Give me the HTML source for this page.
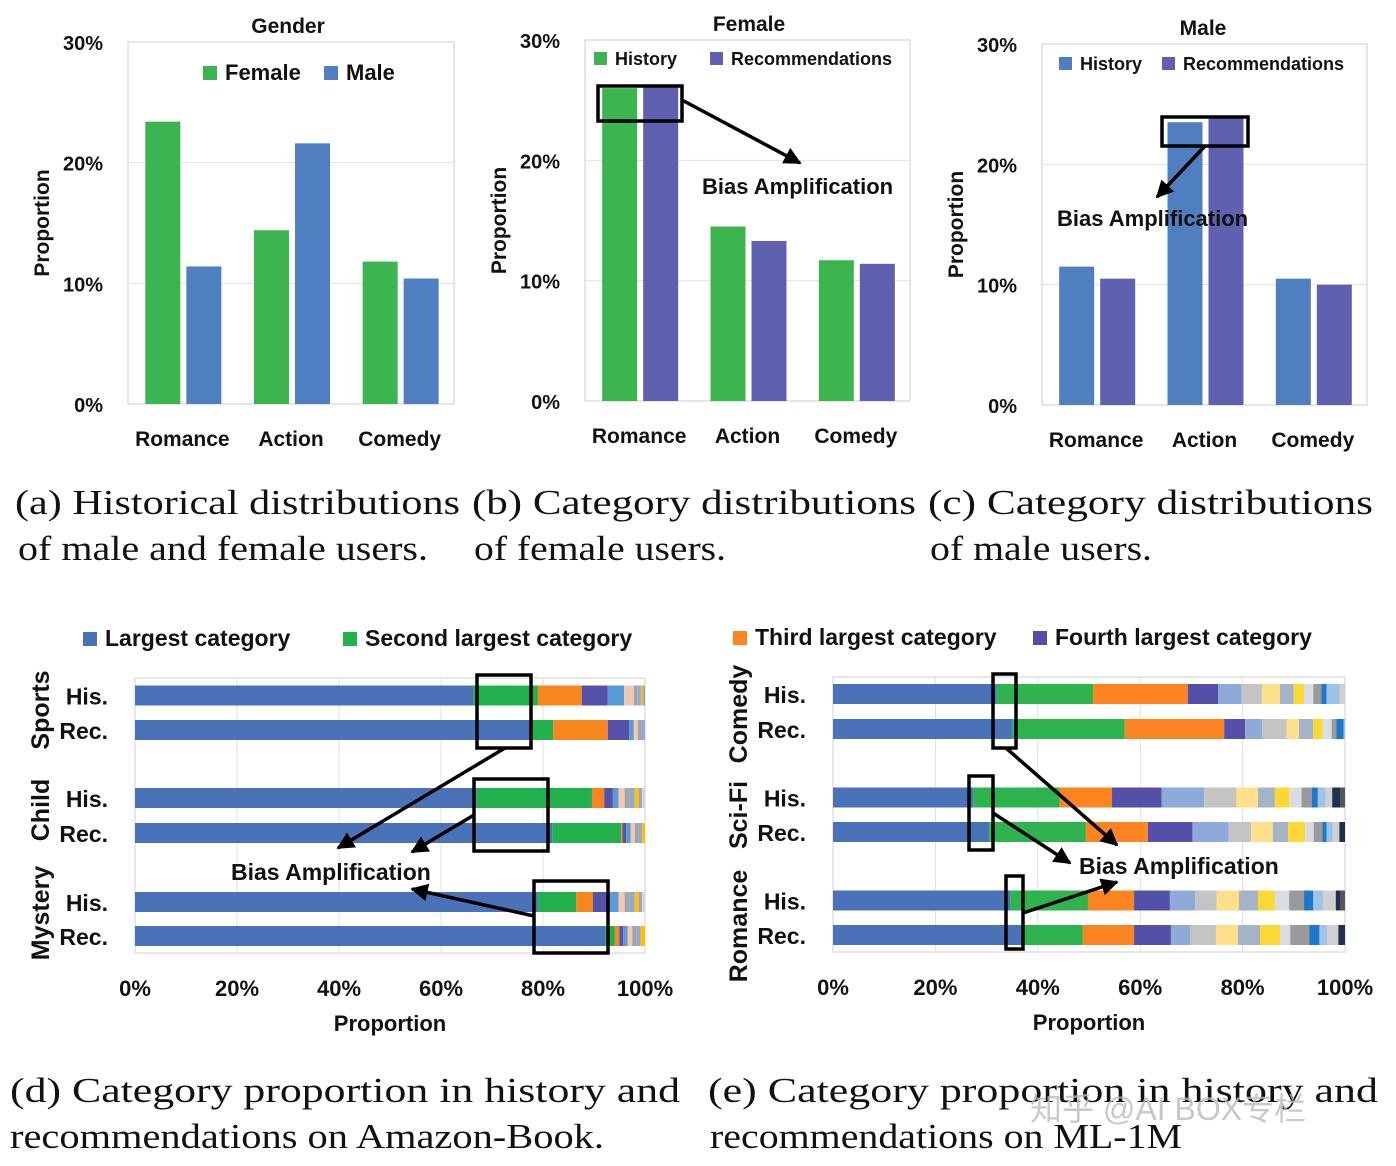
<!DOCTYPE html>
<html><head><meta charset="utf-8"><style>
html,body{margin:0;padding:0;background:#fff}
svg{display:block}
.b{font-family:"Liberation Sans",sans-serif;font-weight:bold;fill:#111}
.s{font-family:"Liberation Serif",serif;fill:#111}
</style></head><body>
<svg id="root" width="1396" height="1166" viewBox="0 0 1396 1166" xmlns="http://www.w3.org/2000/svg">
<g id="g"></g>
<text class="s" x="15" y="514" font-size="35" textLength="445" lengthAdjust="spacingAndGlyphs">(a)  Historical distributions</text>
<text class="s" x="18" y="560" font-size="35" textLength="410" lengthAdjust="spacingAndGlyphs">of male and female users.</text>
<text class="s" x="472" y="514" font-size="35" textLength="444" lengthAdjust="spacingAndGlyphs">(b)  Category  distributions</text>
<text class="s" x="474" y="560" font-size="35" textLength="252" lengthAdjust="spacingAndGlyphs">of female users.</text>
<text class="s" x="928" y="514" font-size="35" textLength="445" lengthAdjust="spacingAndGlyphs">(c)  Category  distributions</text>
<text class="s" x="930" y="560" font-size="35" textLength="222" lengthAdjust="spacingAndGlyphs">of male users.</text>
<text class="s" x="10" y="1102" font-size="35" textLength="670" lengthAdjust="spacingAndGlyphs">(d)  Category  proportion  in  history  and</text>
<text class="s" x="10" y="1148" font-size="35" textLength="594" lengthAdjust="spacingAndGlyphs">recommendations on Amazon-Book.</text>
<text class="s" x="708" y="1102" font-size="35" textLength="670" lengthAdjust="spacingAndGlyphs">(e)  Category  proportion  in  history  and</text>
<text class="s" x="710" y="1148" font-size="35" textLength="472" lengthAdjust="spacingAndGlyphs">recommendations on ML-1M</text>
<text x="1030" y="1120" font-size="32" fill="#bbb" opacity="0.8" font-family="'Liberation Sans','Noto Sans CJK SC',sans-serif">知乎 @AI BOX专栏</text>
</svg>
<script>
const catsTop = ["Romance","Action","Comedy"];
const aFemale = [23.4, 14.4, 11.8];
const aMale = [11.4, 21.6, 10.4];
const bHistory = [26.0, 14.5, 11.7];
const bRec = [26.2, 13.3, 11.4];
const cHistory = [11.5, 23.5, 10.5];
const cRec = [10.5, 23.8, 10.0];
const yTicks = [0, 10, 20, 30];
const yTickLabels = ["0%","10%","20%","30%"];
const dRowLabels = ["His.","Rec.","His.","Rec.","His.","Rec."];
const dGroups = ["Sports","Child","Mystery"];
const dRows = [
 [66.4,79,87.6,92.7,95.9,97.8,98.5,99.2,99.6,100],
 [78,82,92.7,96.9,97.8,98.6,99.3,100],
 [67,89.6,92,93.7,94.8,96,97,98,98.8,99.4,100],
 [81.8,95.3,95.6,96.3,97.2,98,98.8,99.4,100],
 [79,86.5,89.8,92.6,94.8,96,97,98,98.8,99.4,100],
 [92.2,94.1,95,95.7,96.6,97.5,98.3,99.1,100]
];
const eGroups = ["Comedy","Sci-Fi","Romance"];
const eRows = [
 [32,50.8,69.3,75.2,79.8,83.8,87.3,90,92,93.8,95.4,96.4,99,100],
 [35.1,57,76.4,80.5,83.8,88.6,91,93.8,95.6,97.4,98.3,99.7,100],
 [27.4,44.3,54.5,64.2,72.5,78.8,83,86.3,89.2,91.5,93.5,94.7,96.2,97.5,99.1,100],
 [30.5,49.4,61.5,70.2,77.3,81.7,85.9,88.9,92.2,93.9,95.6,96.4,97.6,98.9,100],
 [34.6,49.8,58.8,65.8,70.7,74.9,79.3,83,86.3,89.1,92,93.8,95.7,98.2,99.1,100],
 [36.8,48.8,58.8,66,69.8,74.8,79.1,83.4,87.3,89.3,93,95,96.5,98.7,100]
];
const xTicks = [0,20,40,60,80,100];
const xTickLabels = ["0%","20%","40%","60%","80%","100%"];

const NS="http://www.w3.org/2000/svg";
const G=document.getElementById('g');
function mk(tag,at,parent){const e=document.createElementNS(NS,tag);for(const k in at)e.setAttribute(k,at[k]);(parent||G).appendChild(e);return e;}
function txt(s,at,name){const e=mk('text',at);e.textContent=s;


return e;}

const GREEN="#3cb550", BLUE="#4f7fc0", PURPLE="#6060b0";
function barChart(cfg){
  const {x0,x1,y0,yTop,title,tx,ty,s1,s2,c1,c2,p}=cfg;
  const ys=v=>y0-(v/30)*(y0-yTop);
  const fr=mk('rect',{x:x0,y:yTop,width:x1-x0,height:y0-yTop,fill:'none',stroke:'#ccc','stroke-width':1});
  
  
  yTicks.forEach((t,i)=>{
    if(t>0&&t<30){const l=mk('line',{x1:x0,x2:x1,y1:ys(t),y2:ys(t),stroke:'#e2e2e2'});
    
    }
    txt(yTickLabels[i],{class:'b',x:x0-25,y:ys(t)+8,'font-size':20,'text-anchor':'end'},p+'-y-tick');
  });
  const gw=(x1-x0)/3;
  catsTop.forEach((c,i)=>{
    const cx=x0+gw*(i+0.5);
    const r1=mk('rect',{x:cx-37,y:ys(s1[i]),width:35,height:y0-ys(s1[i]),fill:c1});
    
    
    const r2=mk('rect',{x:cx+4,y:ys(s2[i]),width:35,height:y0-ys(s2[i]),fill:c2});
    
    
    txt(c,{class:'b',x:cx,y:y0+42,'font-size':21,'text-anchor':'middle',fill:'#222'},p+'-x-label');
  });
  txt(title,{class:'b',x:tx,y:ty,'font-size':21,'text-anchor':'middle'},p+'-title');
  txt("Proportion",{class:'b',x:0,y:0,'font-size':21,'text-anchor':'middle',transform:`translate(${x0-79},${(y0+yTop)/2}) rotate(-90)`},p+'-y-axis-title');
}
barChart({x0:128,x1:454,y0:404,yTop:42,title:"Gender",tx:288,ty:33,s1:aFemale,s2:aMale,c1:GREEN,c2:BLUE,p:'a'});
barChart({x0:585,x1:910,y0:401,yTop:40,title:"Female",tx:749,ty:31,s1:bHistory,s2:bRec,c1:GREEN,c2:PURPLE,p:'b'});
barChart({x0:1042,x1:1367,y0:405,yTop:44,title:"Male",tx:1203,ty:35,s1:cHistory,s2:cRec,c1:BLUE,c2:PURPLE,p:'c'});

function legendSq(x,y,sz,col,label,fs,name){
  const r=mk('rect',{x:x,y:y,width:sz,height:sz,fill:col});
  
  
  txt(label,{class:'b',x:x+sz+8,y:y+sz,'font-size':fs},name);
}
legendSq(203,66,14,GREEN,"Female",22,'legend-female');
legendSq(324,66,14,BLUE,"Male",22,'legend-male');
legendSq(594,52,13,GREEN,"History",18,'legend-b-history');
legendSq(710,52,13,PURPLE,"Recommendations",18,'legend-b-recommendations');
legendSq(1059,57,13,BLUE,"History",18,'legend-c-history');
legendSq(1162,57,13,PURPLE,"Recommendations",18,'legend-c-recommendations');
legendSq(83,632,14,"#4a72b8","Largest category",23,'legend-largest');
legendSq(343,632,14,"#22b14c","Second largest category",23,'legend-second');
legendSq(733,631,14,"#fd8421","Third largest category",23,'legend-third');
legendSq(1033,631,14,"#544fa8","Fourth largest category",23,'legend-fourth');

const defs=mk('defs',{});
const mkr=mk('marker',{id:'ah',viewBox:'0 0 10 10',refX:9,refY:5,markerWidth:5,markerHeight:5,orient:'auto'},defs);
mk('path',{d:'M0,0 L10,5 L0,10 z',fill:'#000'},mkr);
function box(x1,y1,x2,y2,name){const r=mk('rect',{x:x1,y:y1,width:x2-x1,height:y2-y1,fill:'none',stroke:'#000','stroke-width':3.5});

}
function arrow(x1,y1,x2,y2,name){const l=mk('line',{x1,y1,x2,y2,stroke:'#000','stroke-width':3.5,'marker-end':'url(#ah)'});

}

const dColors=["#4a72b8","#22b14c","#f7861e","#5550a8","#5b9bd5","#f4c7b0","#a5a5a5","#8eaadb","#ffc000","#9aa5b8","#cfd6e0"];
const eColors=["#4a72b8","#2eb34f","#fd8421","#544fa8","#8eaadb","#c4c4c4","#ffe08a","#a5b3c8","#fdd835","#d9dde3","#9a9a9a","#1f77c8","#9dc3e6","#d0d0d0","#1f3050","#555"];
function stacked(cfg){
  const {x0,x1,yT,yB,rows,rowY,colors,groups,gx,gy,p,labX}=cfg;
  const xs=v=>x0+v/100*(x1-x0);
  const fr=mk('rect',{x:x0,y:yT,width:x1-x0,height:yB-yT,fill:'none',stroke:'#d0d0d0'});
  
  
  xTicks.forEach((t,i)=>{
    if(t>0&&t<100){const l=mk('line',{x1:xs(t),x2:xs(t),y1:yT,y2:yB,stroke:'#e0e0e0'});
    
    }
    txt(xTickLabels[i],{class:'b',x:xs(t),y:yB+43,'font-size':22,'text-anchor':'middle'},p+'-x-tick');
  });
  rows.forEach((r,ri)=>{
    let prev=0;
    r.forEach((v,si)=>{
      const rc=mk('rect',{x:xs(prev),y:rowY[ri]-10,width:Math.max(0,xs(v)-xs(prev)),height:20,fill:colors[si%colors.length]});
      
      
      prev=v;
    });
    txt(dRowLabels[ri],{class:'b',x:labX,y:rowY[ri]+9,'font-size':23,'text-anchor':'end'},p+'-row-label');
  });
  groups.forEach((gname,i)=>{
    txt(gname,{class:'b',x:0,y:0,'font-size':25,'text-anchor':'middle',transform:`translate(${gx},${gy[i]}) rotate(-90)`},p+'-group-label');
  });
  txt("Proportion",{class:'b',x:(x0+x1)/2,y:yB+78,'font-size':22,'text-anchor':'middle'},p+'-x-axis-title');
}
stacked({x0:135,x1:645,yT:678,yB:953,rows:dRows,rowY:[695.5,730,798,833,902,936],colors:dColors,groups:dGroups,gx:49,gy:[710,810,913],p:'d',labX:108});
stacked({x0:833,x1:1345,yT:677,yB:952,rows:eRows,rowY:[694,729,797.5,832,900.5,935],colors:eColors,groups:eGroups,gx:747,gy:[714,815,926],p:'e',labX:806});

box(598,86,682,121,'b-highlight-box');
arrow(682,100,800,163,'b-annotation-arrow');
txt("Bias Amplification",{class:'b',x:702,y:194,'font-size':22},'b-annotation');
box(1162,117,1248,146,'c-highlight-box');
arrow(1205,146,1157,197,'c-annotation-arrow');
txt("Bias Amplification",{class:'b',x:1057,y:226,'font-size':22},'c-annotation');

box(477,675,531,748,'d-highlight-box-sports');
box(474,779,548,851,'d-highlight-box-child');
box(534,881,608,953,'d-highlight-box-mystery');
arrow(505,748,338,848,'d-arrow-sports');
arrow(474,815,412,852,'d-arrow-child');
arrow(534,916,412,889,'d-arrow-mystery');
txt("Bias Amplification",{class:'b',x:231,y:880,'font-size':23},'d-annotation');

box(993,674,1016,748,'e-highlight-box-comedy');
box(969,776,993,850,'e-highlight-box-scifi');
box(1006,876,1023,949,'e-highlight-box-romance');
arrow(1006,748,1117,845,'e-arrow-comedy');
arrow(993,813,1070,863,'e-arrow-scifi');
arrow(1023,913,1117,882,'e-arrow-romance');
txt("Bias Amplification",{class:'b',x:1079,y:874,'font-size':23},'e-annotation');
</script>
</body></html>
